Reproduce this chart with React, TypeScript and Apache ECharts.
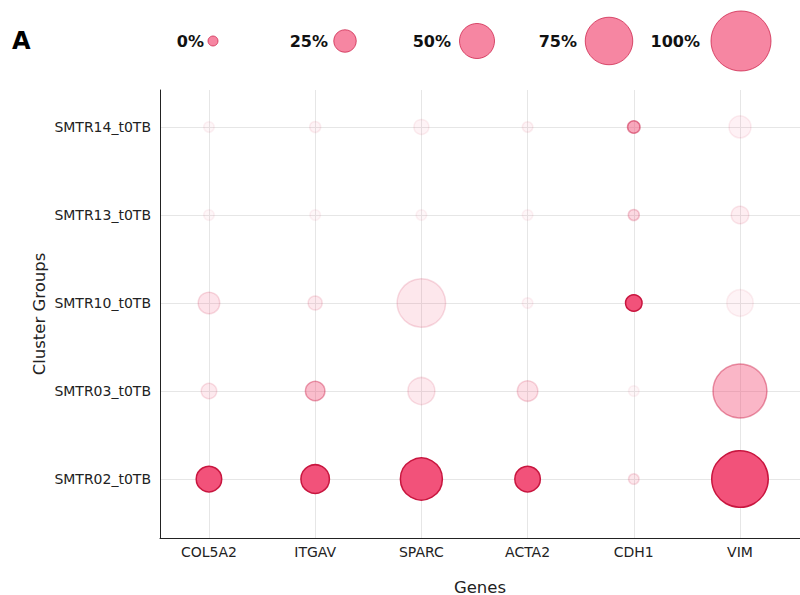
import React, { useEffect, useRef } from "react";
import * as echarts from "echarts";

const genes = ["COL5A2", "ITGAV", "SPARC", "ACTA2", "CDH1", "VIM"];
const clusters = ["SMTR02_t0TB", "SMTR03_t0TB", "SMTR10_t0TB", "SMTR13_t0TB", "SMTR14_t0TB"];

// percent of cells expressing (bubble size), one row per cluster, columns follow genes
const pctSMTR02 = [31, 37, 64, 31, 1, 93];
const pctSMTR03 = [11, 19, 34, 21, 1, 88];
const pctSMTR10 = [23, 8, 77, 1, 13, 33];
const pctSMTR13 = [1, 1, 1, 1, 2, 15];
const pctSMTR14 = [1, 2, 10, 1, 5, 24];

// scaled average expression (bubble opacity)
const exprSMTR02 = [1.0, 1.0, 1.0, 1.0, 0.14, 1.0];
const exprSMTR03 = [0.13, 0.38, 0.13, 0.18, 0.05, 0.42];
const exprSMTR10 = [0.16, 0.13, 0.14, 0.06, 1.0, 0.07];
const exprSMTR13 = [0.05, 0.05, 0.05, 0.05, 0.22, 0.1];
const exprSMTR14 = [0.05, 0.07, 0.07, 0.07, 0.5, 0.08];

const legendValues = [0, 25, 50, 75, 100];
const legendLabels = ["0%", "25%", "50%", "75%", "100%"];

const pctRows = [pctSMTR02, pctSMTR03, pctSMTR10, pctSMTR13, pctSMTR14];
const exprRows = [exprSMTR02, exprSMTR03, exprSMTR10, exprSMTR13, exprSMTR14];

const FONT = "DejaVu Sans";
const BASE = "#F2527A";
const EDGE = "#C8163F";

const sizeOf = (pct: number) => 10 + 0.5 * pct;

export default function App() {
  const ref = useRef<HTMLDivElement>(null);
  useEffect(() => {
    if (!ref.current) return;
    const chart = echarts.init(ref.current, null, { renderer: "svg" });

    const data: number[][] = [];
    pctRows.forEach((row, ci) => {
      row.forEach((p, gi) => {
        data.push([gi, ci, p, exprRows[ci][gi]]);
      });
    });

    const labelRight = [204, 328, 451, 577, 700];
    const graphics: any[] = [
      {
        type: "text",
        left: 12,
        top: 29,
        style: { text: "A", font: `bold 24px ${FONT}`, fill: "#000" },
      },
    ];
    legendValues.forEach((v, i) => {
      const cx = 213 + i * 132;
      const r = sizeOf(v) / 2;
      graphics.push({
        type: "circle",
        shape: { cx, cy: 41, r },
        style: { fill: BASE, opacity: 0.7, stroke: EDGE, lineWidth: 1 },
      });
      graphics.push({
        type: "text",
        x: labelRight[i],
        y: 41,
        style: {
          text: legendLabels[i],
          font: `bold 16px ${FONT}`,
          fill: "#111",
          align: "right",
          verticalAlign: "middle",
        },
      });
    });

    chart.setOption({
      animation: false,
      textStyle: { fontFamily: FONT },
      grid: { left: 160, right: 0, top: 90, bottom: 57, outerBoundsMode: "none", containLabel: false },
      graphic: graphics,
      xAxis: {
        type: "value",
        min: -0.461,
        max: 5.565,
        name: "Genes",
        nameLocation: "middle",
        nameGap: 41,
        nameMoveOverlap: false,
        nameTextStyle: { fontSize: 16.5, lineHeight: 16, color: "#222", fontFamily: FONT },
        axisLine: { show: true, onZero: false, lineStyle: { color: "#222", width: 1 } },
        axisTick: { show: false, customValues: [0, 1, 2, 3, 4, 5] },
        axisLabel: {
          customValues: [0, 1, 2, 3, 4, 5],
          formatter: (v: number) => genes[Math.round(v)] ?? "",
          fontSize: 14,
          color: "#222",
          margin: 7,
          fontFamily: FONT,
        },
        splitLine: { show: true, lineStyle: { color: "#e6e6e6", width: 1 } },
      },
      yAxis: {
        type: "value",
        min: -0.67,
        max: 4.42,
        name: "Cluster Groups",
        nameLocation: "middle",
        nameGap: 112,
        nameMoveOverlap: false,
        nameTextStyle: { fontSize: 16.5, color: "#222", fontFamily: FONT },
        axisLine: { show: true, onZero: false, lineStyle: { color: "#222", width: 1 } },
        axisTick: { show: false, customValues: [0, 1, 2, 3, 4] },
        axisLabel: {
          customValues: [0, 1, 2, 3, 4],
          formatter: (v: number) => clusters[Math.round(v)] ?? "",
          fontSize: 14,
          color: "#222",
          margin: 9,
          fontFamily: FONT,
        },
        splitLine: { show: true, lineStyle: { color: "#e6e6e6", width: 1 } },
      },
      visualMap: {
        show: false,
        type: "continuous",
        dimension: 3,
        min: 0,
        max: 1,
        seriesIndex: 0,
        inRange: { opacity: [0, 1] },
      },
      series: [
        {
          type: "scatter",
          data,
          symbol: "circle",
          symbolSize: (val: number[]) => sizeOf(val[2]),
          itemStyle: { color: BASE, borderColor: EDGE, borderWidth: 1.5 },
        },
      ],
    });
    return () => chart.dispose();
  }, []);
  return <div ref={ref} style={{ width: 800, height: 595, position: "absolute", left: 0, top: 0 }} />;
}
